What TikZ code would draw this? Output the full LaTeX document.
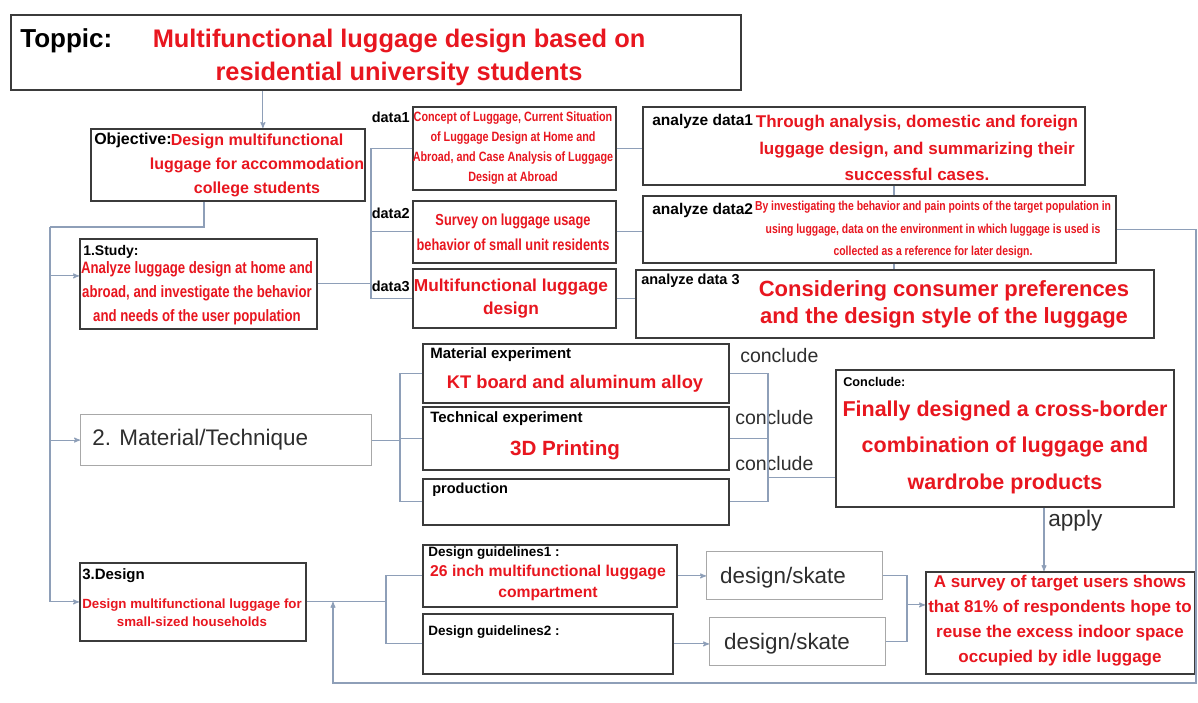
\documentclass[tikz,border=0pt]{standalone}
\usepackage{fontspec}
\setmainfont{Liberation Sans}
\newfontfamily\cnd[FakeStretch=0.8]{Liberation Sans}
\usepackage{xcolor}
\usetikzlibrary{shapes,arrows,positioning,calc}
\definecolor{luggred}{HTML}{E8161F}
\definecolor{boxline}{HTML}{3B3B3B}
\definecolor{lightline}{HTML}{A8A8A8}
\definecolor{wirecol}{HTML}{8E9FB8}
\definecolor{darktext}{HTML}{2E2E2E}
\newcommand\fsz[2]{\fontsize{#1}{#2}\selectfont}

\begin{document}
\begin{tikzpicture}[x=1pt, y=-1pt, >=stealth', semithick]
        \tikzstyle{box}=[draw=boxline, line width=1.8pt, rectangle, inner sep=0pt, anchor=north west]
        \tikzstyle{thin box}=[draw=lightline, line width=1.2pt, rectangle, inner sep=0pt, anchor=north west]
        \tikzstyle{note}=[text=luggred, align=center, inner sep=0pt]
        \tikzstyle{tag}=[text=black, anchor=west, inner sep=0pt]
        \tikzstyle{plain}=[text=darktext, anchor=west, inner sep=0pt]
        \tikzstyle{wire}=[draw=wirecol, line width=1.1pt]

        \fill[white] (0,0) rectangle (1198,702);
        \useasboundingbox (0,0) rectangle (1198,702);

        % frames
        \node[box, minimum width=730, minimum height=75] (T)  at (10,14)  {};
        \node[box, minimum width=274, minimum height=72] (O)  at (90,128) {};
        \node[box, minimum width=237, minimum height=90] (S)  at (79,238) {};
        \node[box, minimum width=203, minimum height=83] (D1) at (412,106) {};
        \node[box, minimum width=203, minimum height=62] (D2) at (412,200) {};
        \node[box, minimum width=203, minimum height=59] (D3) at (412,268) {};
        \node[box, minimum width=442, minimum height=78] (A1) at (642,106) {};
        \node[box, minimum width=473, minimum height=67] (A2) at (642,195) {};
        \node[box, minimum width=518, minimum height=68] (A3) at (635,269) {};
        \node[thin box, minimum width=291, minimum height=51] (MT) at (80,414) {};
        \node[box, minimum width=306, minimum height=59] (ME) at (422,343) {};
        \node[box, minimum width=306, minimum height=63] (TE) at (422,406) {};
        \node[box, minimum width=306, minimum height=46] (PR) at (422,478) {};
        \node[box, minimum width=338, minimum height=137] (C) at (835,369) {};
        \node[box, minimum width=269, minimum height=102] (SV) at (925,571) {};
        \node[box, minimum width=226, minimum height=78] (DS) at (79,562) {};
        \node[box, minimum width=254, minimum height=62] (G1) at (422,544) {};
        \node[box, minimum width=250, minimum height=60] (G2) at (422,613) {};
        \node[thin box, minimum width=176, minimum height=48] (K1) at (706,551) {};
        \node[thin box, minimum width=176, minimum height=48] (K2) at (709,617) {};

        % texts
        \node[tag, font=\bfseries\fsz{26}{30}] (Tl) at (20,41) {Toppic:};
        \node[note, font=\bfseries\fsz{25.4}{33}] (Tt) at (399,57) {Multifunctional luggage design based on\\residential university students};
        \node[tag, font=\bfseries\fsz{16}{20}] (Ol) at (94,140) {Objective:};
        \node[note, font=\bfseries\fsz{16}{24}] (Ot) at (257,165) {Design multifunctional\\luggage for accommodation\\college students};
        \node[tag, font=\bfseries\fsz{14}{16}] (Sl) at (83,252) {1.Study:};
        \node[note, font=\cnd\bfseries\fsz{16.5}{24}] (St) at (197,293) {Analyze luggage design at home and\\abroad, and investigate the behavior\\and needs of the user population};

        \node[tag, anchor=east, font=\bfseries\fsz{14.5}{16}] (L1) at (410,117) {data1};
        \node[tag, anchor=east, font=\bfseries\fsz{14.5}{16}] (L2) at (410,213) {data2};
        \node[tag, anchor=east, font=\bfseries\fsz{14.5}{16}] (L3) at (410,286) {data3};
        \node[note, font=\cnd\bfseries\fsz{13.5}{19.7}] (D1t) at (513,148) {Concept of Luggage, Current Situation\\of Luggage Design at Home and\\Abroad, and Case Analysis of Luggage\\Design at Abroad};
        \node[note, font=\cnd\bfseries\fsz{16}{25}] (D2t) at (513,232) {Survey on luggage usage\\behavior of small unit residents};
        \node[note, font=\bfseries\fsz{17.3}{23}] (D3t) at (511,299) {Multifunctional luggage\\design};

        \node[tag, font=\bfseries\fsz{15.5}{18}] (A1l) at (652,121) {analyze data1};
        \node[note, font=\bfseries\fsz{17}{26.5}] (A1t) at (917,148) {Through analysis, domestic and foreign\\luggage design, and summarizing their\\successful cases.};
        \node[tag, font=\bfseries\fsz{15.5}{18}] (A2l) at (652,210) {analyze data2};
        \node[note, font=\cnd\bfseries\fsz{13}{22.5}] (A2t) at (933,230) {By investigating the behavior and pain points of the target population in\\using luggage, data on the environment in which luggage is used is\\collected as a reference for later design.};
        \node[tag, font=\bfseries\fsz{14.5}{18}] (A3l) at (641,281) {analyze data 3};
        \node[note, font=\bfseries\fsz{22}{27}] (A3t) at (944,304) {Considering consumer preferences\\and the design style of the luggage};

        \node[plain, font=\fsz{22.5}{24}] (MTt) at (92,440) {2. Material/Technique};
        \node[tag, font=\bfseries\fsz{15}{18}] (MEl) at (430,355) {Material experiment};
        \node[note, font=\bfseries\fsz{18.3}{20}] (MEt) at (575,384) {KT board and aluminum alloy};
        \node[tag, font=\bfseries\fsz{15}{18}] (TEl) at (430,419) {Technical experiment};
        \node[note, font=\bfseries\fsz{20.6}{22}] (TEt) at (565,450) {3D Printing};
        \node[tag, font=\bfseries\fsz{14.5}{16}] (PRl) at (432,490) {production};
        \node[plain, font=\fsz{19.5}{22}] (Q1) at (740,356) {conclude};
        \node[plain, font=\fsz{19.5}{22}] (Q2) at (735,418) {conclude};
        \node[plain, font=\fsz{19.5}{22}] (Q3) at (735,464) {conclude};
        \node[tag, font=\bfseries\fsz{12.7}{14}] (Cl) at (843,382) {Conclude:};
        \node[note, font=\bfseries\fsz{21.5}{36.5}] (Ct) at (1005,447) {Finally designed a cross-border\\combination of luggage and\\wardrobe products};
        \node[plain, font=\fsz{22.6}{24}] (AP) at (1048,521) {apply};
        \node[note, font=\bfseries\fsz{17}{25}] (SVt) at (1060,621) {A survey of target users shows\\that 81\% of respondents hope to\\reuse the excess indoor space\\occupied by idle luggage};

        \node[tag, font=\bfseries\fsz{15}{16}] (DSl) at (82,576) {3.Design};
        \node[note, font=\bfseries\fsz{13.3}{18}] (DSt) at (192,613) {Design multifunctional luggage for\\small-sized households};
        \node[tag, font=\bfseries\fsz{13.5}{15}] (G1l) at (428,553) {Design guidelines1 :};
        \node[note, font=\bfseries\fsz{15.7}{21}] (G1t) at (548,583) {26 inch multifunctional luggage\\compartment};
        \node[tag, font=\bfseries\fsz{13.5}{15}] (G2l) at (428,632) {Design guidelines2 :};
        \node[plain, anchor=center, font=\fsz{22.4}{24}] (K1t) at (783,578) {design/skate};
        \node[plain, anchor=center, font=\fsz{22.4}{24}] (K2t) at (787,644) {design/skate};

        % joints
        \coordinate (tj) at ([xshift=35]O.north);
        \coordinate (oj) at (204,0);
        \coordinate (trunk) at (50,227);
        \coordinate (sin) at ([yshift=8]S.west);
        \coordinate (sb) at (371,0);
        \coordinate (ax) at (894,0);
        \coordinate (mb) at (400,0);
        \coordinate (cb) at (768,0);
        \coordinate (cin) at ([yshift=-39]C.west);
        \coordinate (ap) at (1044,0);
        \coordinate (gb) at (386,0);
        \coordinate (kb) at (907,0);
        \coordinate (svin) at ([yshift=18]SV.west);
        \coordinate (fbR) at (1196,683);
        \coordinate (fbL) at (333,683);

        \draw[wire, ->] (tj |- T.south) -- (tj);
        \draw[wire] (O.south -| oj) |- (trunk);
        \draw[wire, ->] (trunk) |- (sin);
        \draw[wire, ->] (trunk) |- (MT.west);
        \draw[wire, ->] (trunk) |- (DS.west);

        \draw[wire] (S.east) -- (S.east -| sb);
        \draw[wire] (D1.west) -| (sb |- D3.west) -- (D3.west);
        \draw[wire] (sb |- D2.west) -- (D2.west);
        \draw[wire] (D1.east) -- (D1.east -| A1.west);
        \draw[wire] (D2.east) -- (D2.east -| A2.west);
        \draw[wire] (D3.east) -- (D3.east -| A3.west);
        \draw[wire] (ax |- A1.south) -- (ax |- A2.north);
        \draw[wire] (ax |- A2.south) -- (ax |- A3.north);
        \draw[wire, ->] (A2.east) -| (fbR) -- (fbL) -- (fbL |- DS.east);

        \draw[wire] (MT.east) -- (MT.east -| mb);
        \draw[wire] (ME.west) -| (mb |- PR.west) -- (PR.west);
        \draw[wire] (mb |- TE.west) -- (TE.west);
        \draw[wire] (ME.east) -| (cb |- PR.east) -- (PR.east);
        \draw[wire] (TE.east) -- (TE.east -| cb);
        \draw[wire] (cb |- cin) -- (cin);
        \draw[wire, ->] (ap |- C.south) -- (ap |- SV.north);

        \draw[wire] (DS.east) -- (DS.east -| gb);
        \draw[wire] (G1.west) -| (gb |- G2.west) -- (G2.west);
        \draw[wire, ->] (G1.east) -- (G1.east -| K1.west);
        \draw[wire, ->] (G2.east) -- (G2.east -| K2.west);
        \draw[wire] (K1.east) -| (kb |- K2.east) -- (K2.east);
        \draw[wire, ->] (kb |- svin) -- (svin);
\end{tikzpicture}
\end{document}
